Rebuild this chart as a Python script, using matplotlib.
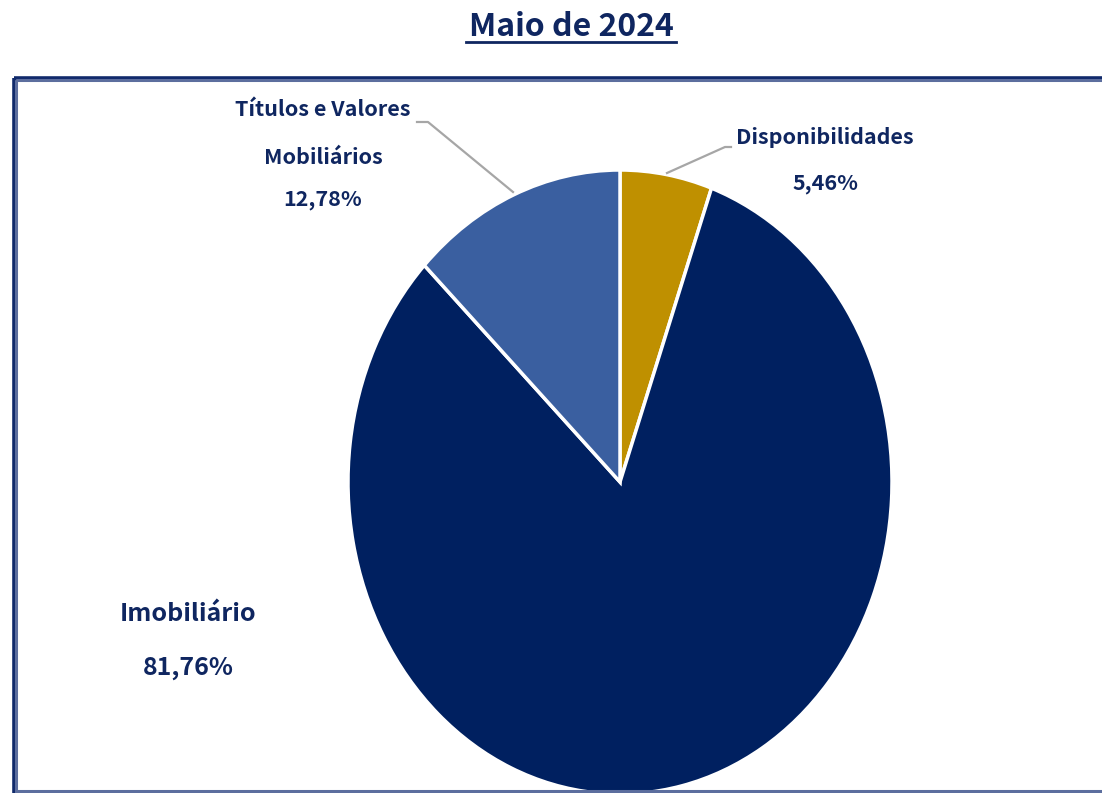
import matplotlib
matplotlib.use("Agg")
import matplotlib.pyplot as plt
from matplotlib.patches import Rectangle

# data
categories = ["Disponibilidades", "Imobiliário", "Títulos e Valores\nMobiliários"]
shares = [5.46, 81.76, 12.78]
share_labels = ["5,46%", "81,76%", "12,78%"]
colors = ["#BF9000", "#002060", "#3A5FA0"]
title = "Maio de 2024"

W, H = 1102, 793
fig = plt.figure(figsize=(W / 100, H / 100), dpi=100)

# pie (elliptic, like the original excel chart)
pax = fig.add_axes([348 / W, (H - 794) / H, 544 / W, 624 / H])
pax.pie(shares, colors=colors, startangle=90, counterclock=False,
        wedgeprops=dict(edgecolor="white", linewidth=2.5))
pax.set_aspect("auto")
pax.set_xlim(-1, 1)
pax.set_ylim(-1, 1)
pax.axis("off")

# overlay in pixel coords for text and frame
ax = fig.add_axes([0, 0, 1, 1], zorder=5)
ax.set_xlim(0, W)
ax.set_ylim(H, 0)
ax.axis("off")
ax.patch.set_alpha(0)

font = ["Noto Sans CJK KR", "DejaVu Sans"]
txt_col = "#0F2660"

# frame
ax.add_patch(Rectangle((13.5, 77.5), 1200, 720, fill=False, edgecolor="#102A6B", linewidth=2.6, clip_on=False))
ax.add_patch(Rectangle((16, 80), 1200, 711, fill=False, edgecolor="#5C6E9E", linewidth=2.2, clip_on=False))

# title
ax.text(571, 27, title, ha="center", va="center", fontsize=23, fontweight="bold",
        color=txt_col, family=font)
ax.plot([466, 676], [42, 42], color=txt_col, linewidth=2)

# leader lines
ax.plot([417, 428, 513], [122, 122, 192], color="#A6A6A6", linewidth=1.6)
ax.plot([731, 725, 667], [147, 147, 173], color="#A6A6A6", linewidth=1.6)

# labels
small = 15.5
ax.text(323, 110, "Títulos e Valores", ha="center", va="center", fontsize=small,
        fontweight="bold", color=txt_col, family=font)
ax.text(323, 157, "Mobiliários", ha="center", va="center", fontsize=small,
        fontweight="bold", color=txt_col, family=font)
ax.text(323, 200, share_labels[2], ha="center", va="center", fontsize=small,
        fontweight="bold", color=txt_col, family=font)

ax.text(825, 138, categories[0], ha="center", va="center", fontsize=small,
        fontweight="bold", color=txt_col, family=font)
ax.text(825, 184, share_labels[0], ha="center", va="center", fontsize=small,
        fontweight="bold", color=txt_col, family=font)

ax.text(188, 614, categories[1], ha="center", va="center", fontsize=18,
        fontweight="bold", color=txt_col, family=font)
ax.text(188, 668, share_labels[1], ha="center", va="center", fontsize=18,
        fontweight="bold", color=txt_col, family=font)

fig.savefig("out.png", dpi=100)
